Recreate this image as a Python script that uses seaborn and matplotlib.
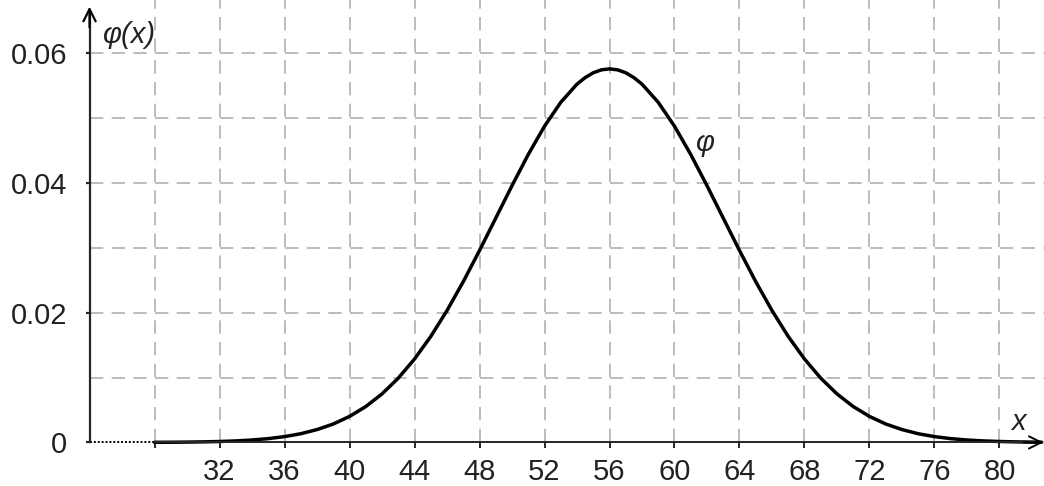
import matplotlib
matplotlib.use("Agg")
import matplotlib.pyplot as plt
import seaborn as sns
import pandas as pd

# density values
x_vals = [28, 29, 30, 31, 32, 33, 34, 35, 36, 37, 38, 39, 40, 41, 42, 43, 44, 45,
          46, 47, 48, 49, 50, 51, 52, 53, 54, 54.5, 55, 55.5, 56, 56.5, 57, 57.5,
          58, 59, 60, 61, 62, 63,
          64, 65, 66, 67, 68, 69, 70, 71, 72, 73, 74, 75, 76, 77, 78, 79, 80, 81,
          82, 82.6]
y_vals = [0.0000165, 0.000029, 0.0000505, 0.0000858, 0.000143, 0.000233, 0.000373,
          0.000584, 0.000895, 0.00134, 0.00198, 0.00284, 0.00401, 0.00553, 0.00748,
          0.00991, 0.01286, 0.01634, 0.02034, 0.02479, 0.02959, 0.03459, 0.03959,
          0.0444, 0.04876, 0.05244, 0.05525, 0.05625, 0.0570, 0.05745, 0.0576,
          0.05745, 0.0570, 0.05625, 0.05525,
          0.05244, 0.04876, 0.0444, 0.03959, 0.03459, 0.02959, 0.02479, 0.02034,
          0.01634, 0.01286, 0.00991, 0.00748, 0.00553, 0.00401, 0.00284, 0.00198,
          0.00134, 0.000895, 0.000584, 0.000373, 0.000233, 0.000143, 0.0000858,
          0.0000505, 0.000035]

x_ticks = [28, 32, 36, 40, 44, 48, 52, 56, 60, 64, 68, 72, 76, 80]
x_tick_labels = ["", "32", "36", "40", "44", "48", "52", "56", "60", "64", "68", "72", "76", "80"]
y_ticks = [0, 0.02, 0.04, 0.06]
y_tick_labels = ["0", "0.02", "0.04", "0.06"]
y_grid = [0.01, 0.02, 0.03, 0.04, 0.05, 0.06]


def main():
    sns.set_style("white")
    plt.rcParams["font.family"] = ["Liberation Sans", "DejaVu Sans"]

    df = pd.DataFrame({"x": x_vals, "phi": y_vals})

    fig = plt.figure(figsize=(10.44, 4.86), dpi=100)
    ax = fig.add_axes([0, 0, 1, 1])
    x_axis = 24
    x_min, x_max = 18.49, 82.74
    y_min, y_max = -0.00672, 0.06822
    ax.set_xlim(x_min, x_max)
    ax.set_ylim(y_min, y_max)

    # dashed grid
    grid_kw = dict(color="#b0b0b0", lw=1.2, linestyle=(0, (8, 5)), zorder=1)
    ax.vlines(x_ticks, 0, y_max, **grid_kw)
    ax.hlines(y_grid, x_axis, x_max, **grid_kw)

    # curve
    sns.lineplot(data=df, x="x", y="phi", ax=ax, color="black", lw=2.5, zorder=4)

    # axes
    for side in ["top", "right"]:
        ax.spines[side].set_visible(False)
    ax.spines["left"].set_position(("data", x_axis))
    ax.spines["bottom"].set_position(("data", 0))
    ax.spines["left"].set_bounds(0, 0.066)
    ax.spines["bottom"].set_bounds(28, 82.6)
    ax.spines["left"].set_linewidth(1.6)
    ax.spines["bottom"].set_linewidth(1.4)
    ax.spines["left"].set_zorder(5)
    ax.spines["bottom"].set_zorder(5)
    ax.plot([x_axis, 28], [0, 0], color="black", lw=1.4, linestyle=(0, (1, 1)), zorder=5)

    ax.annotate("", xy=(82.7, 0), xytext=(81.5, 0),
                arrowprops=dict(arrowstyle="->", lw=1.4, color="black",
                                mutation_scale=22, shrinkA=0, shrinkB=0), zorder=6)
    ax.annotate("", xy=(x_axis, 0.0672), xytext=(x_axis, 0.064),
                arrowprops=dict(arrowstyle="->", lw=1.6, color="black",
                                mutation_scale=22, shrinkA=0, shrinkB=0), zorder=6)

    ax.set_xticks(x_ticks)
    ax.set_xticklabels(x_tick_labels)
    ax.set_yticks(y_ticks)
    ax.set_yticklabels(y_tick_labels)
    ax.tick_params(axis="x", direction="out", length=4, width=1.4, pad=7,
                   labelsize=21, labelcolor="#222222", bottom=True)
    ax.tick_params(axis="y", direction="out", length=3, width=1.6, pad=13,
                   labelsize=21, labelcolor="#222222", left=True)
    ax.set_xlabel("")
    ax.set_ylabel("")

    ax.text(24.8, 0.0628, "φ(x)", fontsize=21, style="italic", color="#222222",
            ha="left", va="center")
    ax.text(81.2, 0.0031, "x", fontsize=21, style="italic", color="#222222",
            ha="center", va="center")
    ax.text(61.9, 0.0462, "φ", fontsize=21, style="italic", color="#222222",
            ha="center", va="center")

    fig.savefig("out.png", dpi=100)


if __name__ == "__main__":
    main()
